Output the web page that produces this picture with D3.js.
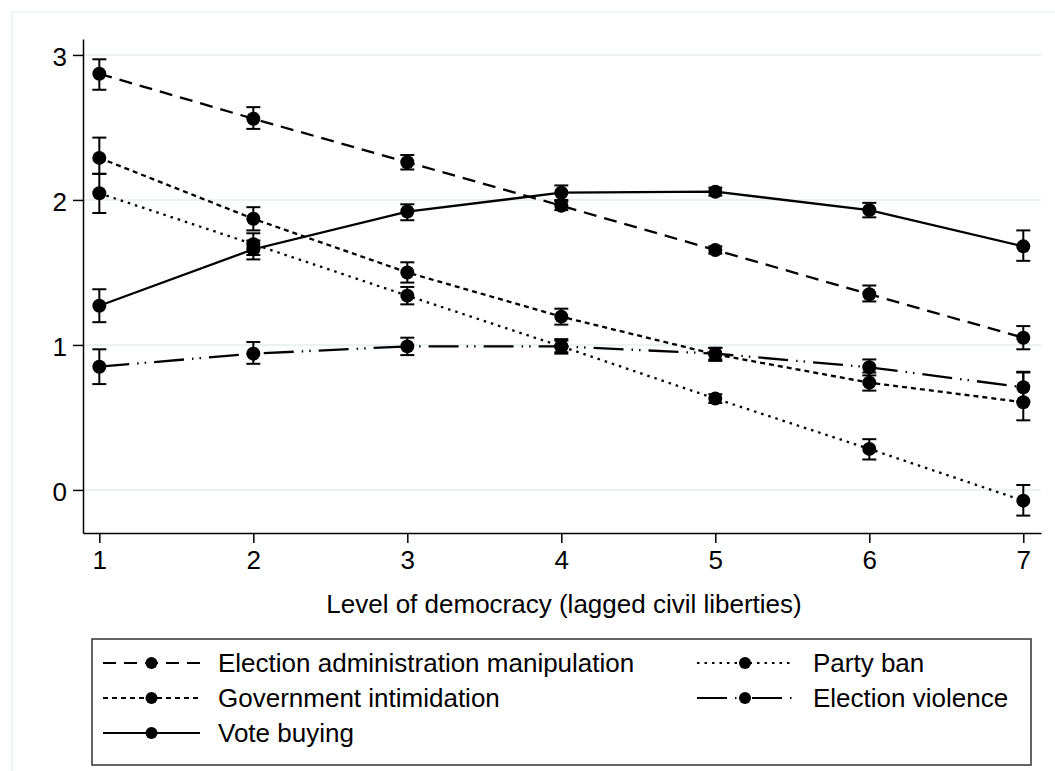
<!DOCTYPE html>
<html lang="en">
<head>
<meta charset="UTF-8">
<title>Level of democracy</title>
<script src="https://cdnjs.cloudflare.com/ajax/libs/d3/7.8.5/d3.min.js"></script>
<style>
  html, body { margin:0; padding:0; background:#fff; }
  svg { display:block; font-family:"Liberation Sans", Arial, Helvetica, sans-serif; }
  .axis text { font-size:26px; font-family:"Liberation Sans", Arial, sans-serif; fill:#000; }
</style>
</head>
<body>
<svg id="chart" width="1055" height="771"></svg>
<script>
// level of democracy, x axis
var levels = [1, 2, 3, 4, 5, 6, 7];
var yTicks = [0, 1, 2, 3];

// point estimates
var adminManip   = [2.87, 2.56, 2.26, 1.96, 1.655, 1.35, 1.05];
var govIntim     = [2.29, 1.87, 1.50, 1.195, 0.935, 0.74, 0.605];
var partyBan     = [2.046, 1.695, 1.34, 0.99, 0.63, 0.283, -0.074];
var voteBuying   = [1.27, 1.66, 1.92, 2.05, 2.057, 1.93, 1.68];
var elecViolence = [0.85, 0.94, 0.99, 0.99, 0.94, 0.846, 0.708];

// confidence intervals (low, high)
var adminLo = [2.76, 2.49, 2.21, 1.93, 1.63, 1.30, 0.97];
var adminHi = [2.97, 2.64, 2.31, 1.99, 1.68, 1.41, 1.13];
var govLo   = [2.18, 1.79, 1.43, 1.14, 0.89, 0.685, 0.48];
var govHi   = [2.43, 1.95, 1.57, 1.25, 0.98, 0.81, 0.815];
var banLo   = [1.91, 1.62, 1.28, 0.94, 0.60, 0.21, -0.177];
var banHi   = [2.18, 1.77, 1.40, 1.04, 0.66, 0.35, 0.034];
var voteLo  = [1.157, 1.59, 1.86, 2.00, 2.03, 1.88, 1.58];
var voteHi  = [1.384, 1.72, 1.97, 2.10, 2.085, 1.98, 1.79];
var violLo  = [0.73, 0.87, 0.93, 0.95, 0.90, 0.79, 0.61];
var violHi  = [0.97, 1.02, 1.05, 1.03, 0.98, 0.90, 0.81];

var seriesNames = ["Election administration manipulation", "Government intimidation",
                   "Vote buying", "Party ban", "Election violence"];

var series = [
  { name: seriesNames[0], est: adminManip,   lo: adminLo, hi: adminHi, dash: "13,8" },
  { name: seriesNames[1], est: govIntim,     lo: govLo,   hi: govHi,   dash: "5,4" },
  { name: seriesNames[2], est: voteBuying,   lo: voteLo,  hi: voteHi,  dash: null },
  { name: seriesNames[3], est: partyBan,     lo: banLo,   hi: banHi,   dash: "2.5,5" },
  { name: seriesNames[4], est: elecViolence, lo: violLo,  hi: violHi,  dash: "30,8,1.5,6,1.5,8" }
];

var svg = d3.select("#chart");

// outer graph region frame
svg.append("rect")
   .attr("x", 12).attr("y", 12)
   .attr("width", 1100).attr("height", 800)
   .attr("fill", "#fff")
   .attr("stroke", "#eaf2f3")
   .attr("stroke-width", 1.5);

var plot = { left: 83, right: 1041, top: 39, bottom: 533 };

var x = d3.scaleLinear().domain([0.894, 7.115]).range([plot.left, plot.right]);
var y = d3.scaleLinear().domain([-0.297, 3.11]).range([plot.bottom, plot.top]);

// grid lines
svg.append("g")
   .selectAll("line")
   .data(yTicks)
   .join("line")
   .attr("x1", plot.left).attr("x2", plot.right)
   .attr("y1", d => y(d)).attr("y2", d => y(d))
   .attr("stroke", "#eaf2f3")
   .attr("stroke-width", 2);

// axes
var xAxis = svg.append("g")
   .attr("class", "axis")
   .attr("transform", `translate(0,${plot.bottom})`)
   .call(d3.axisBottom(x).tickValues(levels).tickFormat(d3.format("d")).tickSize(10).tickSizeOuter(0));
var yAxis = svg.append("g")
   .attr("class", "axis")
   .attr("transform", `translate(${plot.left},0)`)
   .call(d3.axisLeft(y).tickValues(yTicks).tickFormat(d3.format("d")).tickSize(10).tickPadding(6).tickSizeOuter(0));

[xAxis, yAxis].forEach(function(a) {
  a.attr("font-size", 26).attr("font-family", "Liberation Sans, Arial, sans-serif");
  a.select(".domain").attr("stroke", "#000").attr("stroke-width", 1.5);
  a.selectAll(".tick line").attr("stroke", "#000").attr("stroke-width", 1.5);
});
xAxis.selectAll(".tick text").attr("y", 36).attr("dy", 0);
yAxis.selectAll(".tick text").attr("dy", "0.4em");

svg.append("text")
   .attr("x", (plot.left + plot.right) / 2 + 2)
   .attr("y", 613)
   .attr("text-anchor", "middle")
   .style("font-size", "26px")
   .text("Level of democracy (lagged civil liberties)");

var line = d3.line().x((d, i) => x(levels[i])).y(d => y(d));

var g = svg.append("g");
series.forEach(function(s) {
  var sg = g.append("g");
  sg.append("path")
    .datum(s.est)
    .attr("d", line)
    .attr("fill", "none")
    .attr("stroke", "#000")
    .attr("stroke-width", 2.3)
    .attr("stroke-dasharray", s.dash);

  var bars = sg.selectAll(".ci")
    .data(levels)
    .join("g");
  bars.append("line")
    .attr("x1", d => x(d)).attr("x2", d => x(d))
    .attr("y1", (d, i) => y(s.lo[i])).attr("y2", (d, i) => y(s.hi[i]))
    .attr("stroke", "#000").attr("stroke-width", 2);
  bars.append("line")
    .attr("x1", d => x(d) - 7).attr("x2", d => x(d) + 7)
    .attr("y1", (d, i) => y(s.lo[i])).attr("y2", (d, i) => y(s.lo[i]))
    .attr("stroke", "#000").attr("stroke-width", 2);
  bars.append("line")
    .attr("x1", d => x(d) - 7).attr("x2", d => x(d) + 7)
    .attr("y1", (d, i) => y(s.hi[i])).attr("y2", (d, i) => y(s.hi[i]))
    .attr("stroke", "#000").attr("stroke-width", 2);

  sg.selectAll("circle")
    .data(s.est)
    .join("circle")
    .attr("cx", (d, i) => x(levels[i]))
    .attr("cy", d => y(d))
    .attr("r", 7)
    .attr("fill", "#000");
});

// legend
var legend = svg.append("g");
legend.append("rect")
   .attr("x", 92).attr("y", 639)
   .attr("width", 939).attr("height", 126)
   .attr("fill", "#fff")
   .attr("stroke", "#333")
   .attr("stroke-width", 1.5);

var legendPos = [
  { col: 0, row: 0 }, { col: 0, row: 1 }, { col: 0, row: 2 },
  { col: 1, row: 0 }, { col: 1, row: 1 }
];
var colX = [{ x1: 103, x2: 200, text: 218 }, { x1: 697, x2: 793, text: 813 }];
var rowY = [663, 698, 733];

series.forEach(function(s, i) {
  var p = legendPos[i], c = colX[p.col], ly = rowY[p.row];
  var item = legend.append("g");
  item.append("line")
    .attr("x1", c.x1).attr("x2", c.x2)
    .attr("y1", ly).attr("y2", ly)
    .attr("stroke", "#000").attr("stroke-width", 2)
    .attr("stroke-dasharray", s.dash);
  item.append("circle")
    .attr("cx", (c.x1 + c.x2) / 2).attr("cy", ly)
    .attr("r", 6).attr("fill", "#000");
  item.append("text")
    .attr("x", c.text).attr("y", ly)
    .attr("dy", "0.36em")
    .style("font-size", "26px")
    .text(s.name);
});
</script>
</body>
</html>
